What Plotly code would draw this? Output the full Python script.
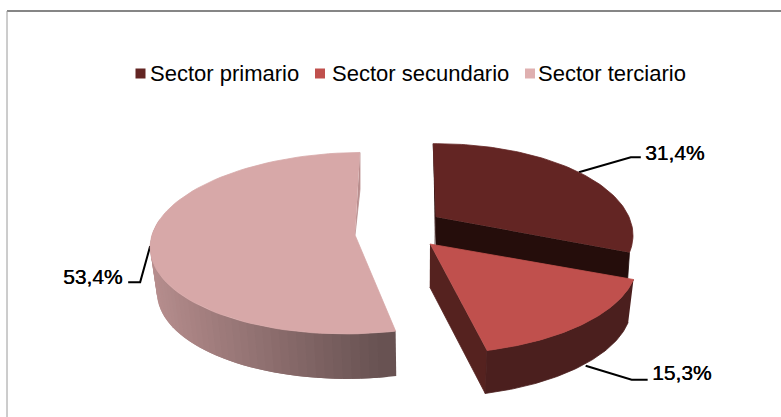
''' 3D exploded pie of employment by sector, drawn on pixel axes '''

## Imports
import numpy as np
import plotly.graph_objects as go

# Data
categories = ["Sector primario", "Sector secundario", "Sector terciario"]
values = [31.4, 15.3, 53.4]
labels = ["31,4%", "15,3%", "53,4%"]

# Colours per slice
top_colors = ["#632523", "#c0504d", "#d7a8a8"]
legend_colors = ["#632523", "#c0504d", "#dfb0b0"]

# Pie geometry (pixels)
apex = [(436, 217), (430, 244), (355, 235)]
depth = [29, 43, 45]
shear = [0, 0, -0.10]
rx = [193, 203, 203]
ry = [88, 88, 90]
persp = [0.2, 0.2, 0.09]
FIRST_ANGLE = -1
VANISH_X, SHRINK = 420, 0.975

# Leader elbows relative to the rim anchor
elbow = [[(52, -15), (62, -15)], [(46, 14), (62, 14)], [(-10, 36), (-22, 36)]]

fig = go.Figure()


def rim(i, t0, t1, n=80):
    t = np.radians(np.linspace(t0, t1, n))
    s = 1 / (1 + persp[i] * np.cos(t))
    dy = -ry[i] * np.cos(t) * s
    x = apex[i][0] + rx[i] * np.sin(t) * s + shear[i] * dy
    y = apex[i][1] + dy
    return x, y


def lower(i, x, y):
    return VANISH_X + (np.asarray(x) - VANISH_X) * SHRINK, np.asarray(y) + depth[i]


def poly(x, y, color, width=0.8):
    fig.add_trace(go.Scatter(
        x=list(x), y=list(y), mode="lines", fill="toself", fillcolor=color,
        line=dict(color=color, width=width), hoverinfo="skip", showlegend=False
    ))


# Slice boundaries, clockwise from the top
edges = FIRST_ANGLE + np.cumsum([0] + values) * 360 / sum(values)
starts, ends = edges[:-1], edges[1:]
mids = (starts + ends) / 2


def wall_gradient(i, t0, t1, left_rgb, right_rgb, n=48):
    # side wall as overlapping strips so it can shade from left to right
    ts = np.linspace(t0, t1, n + 1)
    x_all, _ = rim(i, t0, t1, n + 1)
    for k in range(n - 1, -1, -1):
        x, y = rim(i, ts[k], ts[min(k + 2, n)], 6)
        bx, by = lower(i, x, y)
        f = (x_all[k] - x_all.min()) / (x_all.max() - x_all.min())
        c = [int(a + (b - a) * f) for a, b in zip(left_rgb, right_rgb)]
        poly(np.r_[x, bx[::-1]], np.r_[y, by[::-1]], f"rgb({c[0]},{c[1]},{c[2]})", width=0)


# Leader lines go under the slices
for i in range(3):
    ax, ay = rim(i, mids[i], mids[i], 1)
    if i == 1:
        ay = ay + depth[i]
    fig.add_trace(go.Scatter(
        x=[ax[0]] + [ax[0] + e[0] for e in elbow[i]],
        y=[ay[0]] + [ay[0] + e[1] for e in elbow[i]],
        mode="lines", line=dict(color="#000000", width=2),
        hoverinfo="skip", showlegend=False
    ))

# Slice 3: back cut, wall, top
x3, y3 = rim(2, starts[2], ends[2])
poly([x3[-1], x3[-1], apex[2][0]], [y3[-1], y3[-1] + 37, apex[2][1]], "#b98e8e")
wall_gradient(2, starts[2], 280, (184, 143, 143), (104, 82, 82))
poly(np.r_[apex[2][0], x3], np.r_[apex[2][1], y3], top_colors[2])

# Slice 1: left sliver, cut face, top
x1, y1 = rim(0, starts[0], ends[0])
poly([x1[0], apex[0][0], apex[0][0] - 1], [y1[0], apex[0][1], apex[0][1] + depth[0]], "#2f1210")
poly([apex[0][0], x1[-1], x1[-1] - 2, apex[0][0]],
     [apex[0][1], y1[-1], y1[-1] + depth[0], apex[0][1] + depth[0]], "#250d0b")
poly(np.r_[apex[0][0], x1], np.r_[apex[0][1], y1], top_colors[0])

# Slice 2: left cut, wall, top
x2, y2 = rim(1, starts[1], ends[1])
bx2, by2 = lower(1, x2, y2)
ax2, ay2 = lower(1, [apex[1][0]], [apex[1][1]])
poly([apex[1][0], x2[-1], bx2[-1], ax2[0]], [apex[1][1], y2[-1], by2[-1], ay2[0]], "#55221f")
poly(np.r_[x2, bx2[::-1]], np.r_[y2, by2[::-1]], "#4b1f1e")
poly(np.r_[apex[1][0], x2], np.r_[apex[1][1], y2], top_colors[1])

# Value labels
label_x = [643, 650, 61]
label_y = [152, 372, 276]
for i in range(3):
    fig.add_annotation(x=label_x[i], y=label_y[i], text=labels[i], showarrow=False,
                       xanchor="left", yanchor="middle",
                       font=dict(family="Liberation Sans", size=21, color="#000000",
                                 shadow="0.4px 0 0 #000000"))

# Legend row
swatch_x = [140.5, 320, 530]
legend_text_x = [148, 330, 536]
fig.add_trace(go.Scatter(
    x=swatch_x, y=[73.5] * 3, mode="markers",
    marker=dict(symbol="square", size=10, color=legend_colors, line=dict(width=0)),
    hoverinfo="skip", showlegend=False
))
for i in range(3):
    fig.add_annotation(x=legend_text_x[i], y=73, text=categories[i], showarrow=False,
                       xanchor="left", yanchor="middle",
                       font=dict(family="Liberation Sans", size=22, color="#000000"))

# Chart layout
fig.update_layout(
    width=781,
    height=417,
    autosize=False,
    margin=dict(l=0, r=0, t=0, b=0),
    paper_bgcolor="#ffffff",
    plot_bgcolor="#ffffff",
    showlegend=False,
    xaxis=dict(range=[0, 781], visible=False, fixedrange=True),
    yaxis=dict(range=[417, 0], visible=False, fixedrange=True),
    shapes=[
        dict(type="line", xref="x", yref="y", x0=7, x1=781, y0=11, y1=11,
             line=dict(color="#868686", width=2)),
        dict(type="line", xref="x", yref="y", x0=7, x1=7, y0=11, y1=417,
             line=dict(color="#9a9a9a", width=1)),
    ],
)

fig.write_html("out.html", config=dict(displayModeBar=False),
               post_script="document.body.style.margin='0';")
